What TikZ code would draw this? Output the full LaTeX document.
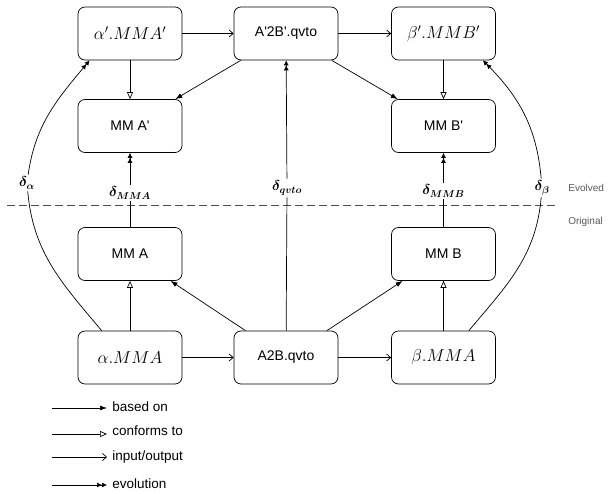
\documentclass[tikz,border=0pt]{standalone}
\usepackage{amsmath}
\usepackage{fontspec}
\setmainfont{Liberation Sans}
\usetikzlibrary{arrows.meta}
\newcommand{\qs}{\textquotesingle}
\begin{document}
\begin{tikzpicture}[x=1pt,y=1pt,line width=0.7pt,
  box/.style={draw, rounded corners=7pt, minimum width=104pt, minimum height=53pt, inner sep=2pt, font=\fontsize{14}{16}\selectfont},
  basedon/.style={-{Latex[length=7pt,width=5pt]}},
  conforms/.style={-{Triangle[open,length=7pt,width=6pt]}},
  io/.style={-{Straight Barb[length=4pt,width=7pt]}},
  evol/.style={-{Latex[length=5pt,width=5pt]Latex[length=5pt,width=5pt]}},
  dlab/.style={inner sep=2pt, font=\fontsize{14}{16}\selectfont},
  side/.style={anchor=west, inner sep=0pt, text=black!65, font=\fontsize{10}{12}\selectfont},
  legtext/.style={anchor=west, inner sep=2pt, font=\fontsize{13.5}{16}\selectfont}]
\useasboundingbox (0,0) rectangle (613,493);
% boxes
\node[box] (apm) at (130,459.5) {{\fontsize{16.5}{18}\selectfont$\alpha'.MMA'$}};
\node[box] (qp)  at (286,459.5) {A\qs 2B\qs .qvto};
\node[box] (bpm) at (443.5,459.5) {{\fontsize{16.5}{18}\selectfont$\beta'.MMB'$}};
\node[box] (mmap) at (130,367) {MM A\qs};
\node[box] (mmbp) at (443.5,367) {MM B\qs};
\node[box] (mma) at (130,239) {MM A};
\node[box] (mmb) at (443.5,239) {MM B};
\node[box] (am) at (130,135.5) {{\fontsize{16.5}{18}\selectfont$\alpha.MMA$}};
\node[box] (q)  at (286,135.5) {A2B.qvto};
\node[box] (bm) at (443.5,135.5) {{\fontsize{16.5}{18}\selectfont$\beta.MMA$}};
% separator
\coordinate (dl) at (7,288);
\coordinate (dr) at (558,288);
\draw[black!70, line width=0.7pt, dash pattern=on 8pt off 4pt] (dl) -- (dr);
\node[side] (ev) at (568,305) {Evolved};
\node[side] (or) at (568,271) {Original};
% delta labels
\node[dlab] (da)  at (27,310) {$\boldsymbol{\delta_\alpha}$};
\node[dlab] (dma) at (130,300) {$\boldsymbol{\delta_{MMA}}$};
\node[dlab] (dq)  at (287,305) {$\boldsymbol{\delta_{qvto}}$};
\node[dlab] (dmb) at (443.5,302) {$\boldsymbol{\delta_{MMB}}$};
\node[dlab] (db)  at (542,305) {$\boldsymbol{\delta_\beta}$};
% top row
\draw[io] (apm) -- (qp);
\draw[io] (qp) -- (bpm);
\draw[conforms] (apm) -- (mmap);
\draw[conforms] (bpm) -- (mmbp);
\draw[basedon] (qp) -- (mmap);
\draw[basedon] (qp) -- (mmbp);
% bottom row
\draw[io] (am) -- (q);
\draw[io] (q) -- (bm);
\draw[conforms] (am) -- (mma);
\draw[conforms] (bm) -- (mmb);
\draw[basedon] (q) -- (mma);
\draw[basedon] (q) -- (mmb);
% evolution
\draw (mma) -- (dma);
\draw[evol] (dma) -- (mmap);
\draw (q) -- (dq);
\draw[evol] (dq) -- (qp);
\draw (mmb) -- (dmb);
\draw[evol] (dmb) -- (mmbp);
\draw ([xshift=24pt]am.north west) to[out=130,in=-85] (da);
\draw[evol] (da) to[out=82,in=230] ([xshift=12pt]apm.south west);
\draw ([xshift=-27pt]bm.north east) to[out=50,in=-95] (db);
\draw[evol] (db) to[out=95,in=-45] ([xshift=-13pt]bpm.south east);
% legend
\node[legtext] (t1) at (110,86) {based on};
\node[legtext] (t2) at (110,62) {conforms to};
\node[legtext] (t3) at (110,36) {input/output};
\node[legtext] (t4) at (110,9) {evolution};
\coordinate (l1) at (52,85);
\coordinate (l2) at (52,59);
\coordinate (l3) at (52,36);
\coordinate (l4) at (52,8);
\draw[basedon, shorten >=3pt] (l1) -- (l1 -| t1.west);
\draw[conforms, shorten >=3pt] (l2) -- (l2 -| t2.west);
\draw[io, shorten >=3pt] (l3) -- (l3 -| t3.west);
\draw[evol, shorten >=3pt] (l4) -- (l4 -| t4.west);
\end{tikzpicture}
\end{document}
